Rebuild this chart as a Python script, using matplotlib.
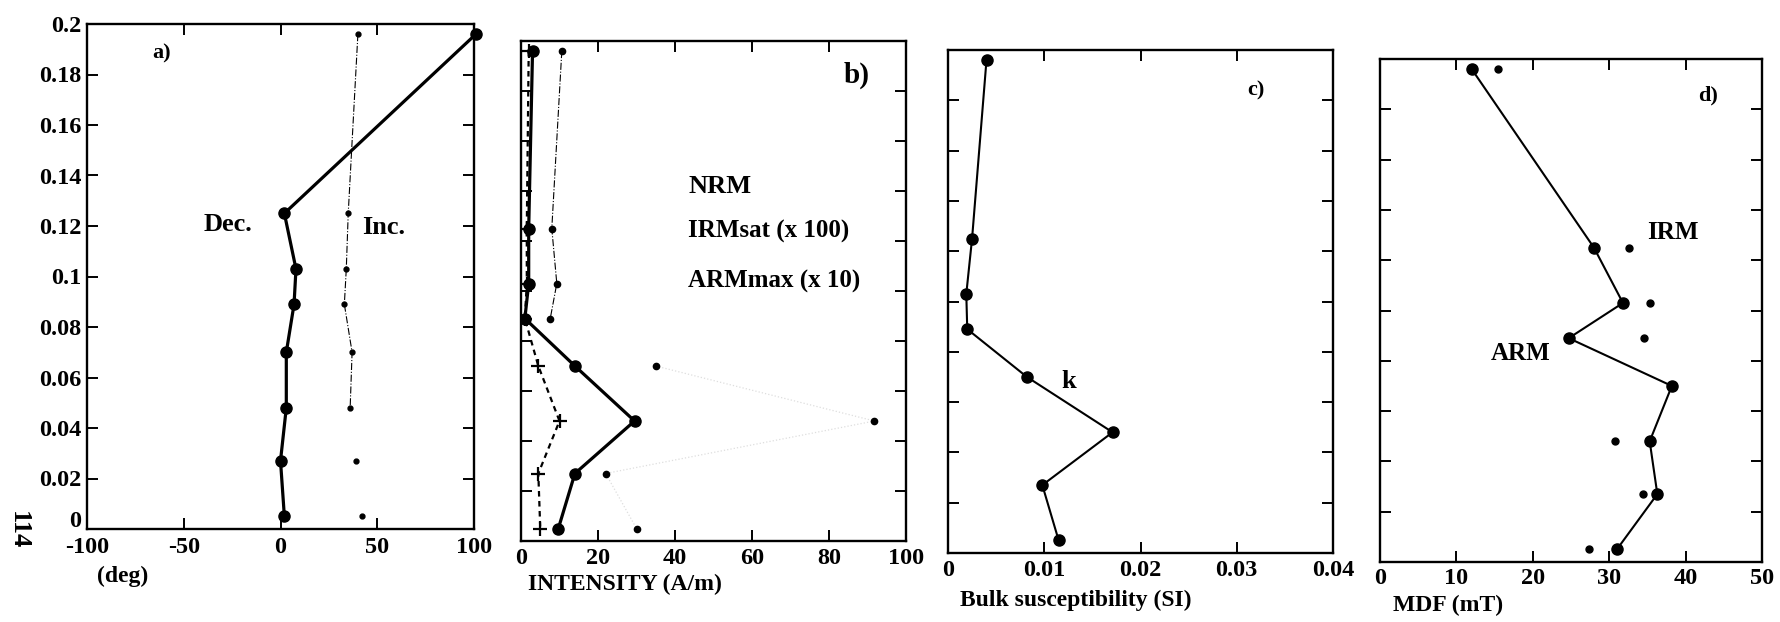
from matplotlib import pyplot as plt
from matplotlib import transforms
import numpy as np

# depth of the samples (shared by all four panels)
depth = [0.196, 0.125, 0.103, 0.089, 0.070, 0.048, 0.027, 0.005]

# a) direction
dec = [101, 2, 8, 7, 3, 3, 0, 2]
inc = [40, 35, 34, 33, 37, 36, 39, 42]

# b) intensities
nrm = [3, 2, 2, 1, 14, 29.5, 14, 9.7]
irm_sat = [10.6, 8, 9.3, 7.6, 35, 91.8, 22, 30]
arm_max = [2, 1.5, 1.5, 1, 4.5, 10, 4.5, 5]

# c) bulk susceptibility
k = [0.0040, 0.0025, 0.0019, 0.0020, 0.0082, 0.0171, 0.0098, 0.0115]

# d) median destructive fields
mdf_arm = [12, 28, 31.8, 24.7, 38.2, 35.3, 36.3, 31]
mdf_irm = [15.4, 32.6, 35.3, 34.5, np.nan, 30.7, 34.4, 27.4]

plt.rcParams['font.family'] = ['Liberation Serif', 'DejaVu Serif']
plt.rcParams['font.weight'] = 'bold'

W, H = 1781, 622
fig = plt.figure(figsize=(W / 100, H / 100), dpi=100)


def box(x0, y0, x1, y1):
    # pixel box -> figure fraction
    return [x0 / W, 1 - y1 / H, (x1 - x0) / W, (y1 - y0) / H]


def ftext(x, y, s, **kw):
    # text placed in figure pixels
    fig.text(x / W, 1 - y / H, s, fontweight='bold', **kw)


def style(ax, xlim, xticks, xlabels, ylabels=False, xpad=4):
    ax.set_xlim(xlim)
    ax.set_ylim(0, 0.2)
    ax.set_xticks(xticks)
    ax.set_xticklabels(xlabels, fontsize=17.5, fontweight='bold')
    ax.set_yticks(np.arange(0, 0.201, 0.02))
    if ylabels:
        ax.set_yticklabels(['0', '0.02', '0.04', '0.06', '0.08', '0.1', '0.12',
                            '0.14', '0.16', '0.18', '0.2'], fontsize=17.5, fontweight='bold')
    else:
        ax.set_yticklabels([])
    ax.tick_params(direction='in', top=True, right=True, length=8, width=1.4)
    ax.tick_params(axis='x', pad=xpad)
    ax.tick_params(axis='y', pad=4)
    for s in ax.spines.values():
        s.set_linewidth(1.7)


# a) Dec / Inc
ax = fig.add_axes(box(87, 24, 474, 529))
ax.plot(dec, depth, '-o', color='black', lw=2.3, ms=8, clip_on=False)
ax.plot(inc[:6], depth[:6], linestyle='-.', color='black', lw=0.8)
ax.plot(inc, depth, '.', color='black', ms=7)
style(ax, (-100, 100), [-100, -50, 0, 50, 100], ['-100', '-50', '0', '50', '100'],
      ylabels=True, xpad=6)
# the "0" depth label sits just above the "-100" label, as in the original
lab0 = ax.get_yticklabels()[0]
lab0.set_transform(lab0.get_transform() + transforms.ScaledTranslation(0, 7 / 72, fig.dpi_scale_trans))
ax.text(-40, 0.118, 'Dec.', fontsize=19, fontweight='bold')
ax.text(42, 0.117, 'Inc.', fontsize=19, fontweight='bold')
ftext(162, 53, 'a)', fontsize=16, ha='center', va='center')
ftext(123, 576, '(deg)', fontsize=17, ha='center', va='center')
ftext(18, 530, '114', rotation=270, fontsize=19, ha='center', va='center')

# b) intensity
ax = fig.add_axes(box(521, 41, 906, 541))
ax.plot(nrm, depth, '-o', color='black', lw=2.3, ms=8)
ax.plot(arm_max, depth, '+', linestyle=(0, (2.5, 2)), color='black', lw=1.6, ms=10, mew=1.6)
ax.plot(irm_sat[:4], depth[:4], linestyle='-.', color='black', lw=0.8)
ax.plot(irm_sat[4:], depth[4:], linestyle=':', color='0.87', lw=0.9)
ax.plot(irm_sat, depth, '.', color='black', ms=9)
style(ax, (0, 100), [0, 20, 40, 60, 80, 100], ['0', '20', '40', '60', '80', '100'], xpad=5)
ax.text(43.5, 0.142, 'NRM', fontsize=19, fontweight='bold', va='center')
ax.text(43.5, 0.124, 'IRMsat (x 100)', fontsize=18, fontweight='bold', va='center')
ax.text(43.5, 0.104, 'ARMmax (x 10)', fontsize=18, fontweight='bold', va='center')
ftext(857, 75, 'b)', fontsize=21, ha='center', va='center')
ftext(528, 584, 'INTENSITY (A/m)', fontsize=17, ha='left', va='center')

# c) bulk susceptibility
ax = fig.add_axes(box(948, 50, 1333, 553))
ax.plot(k, depth, '-o', color='black', lw=1.5, ms=8)
style(ax, (0, 0.04), [0, 0.01, 0.02, 0.03, 0.04], ['0', '0.01', '0.02', '0.03', '0.04'], xpad=5)
ax.text(0.0125, 0.068, 'k', fontsize=19, fontweight='bold', ha='center', va='center')
ftext(1256, 90, 'c)', fontsize=16, ha='center', va='center')
ftext(960, 600, 'Bulk susceptibility (SI)', fontsize=17, ha='left', va='center')

# d) MDF
ax = fig.add_axes(box(1380, 59, 1762, 562))
ax.plot(mdf_arm, depth, '-o', color='black', lw=1.5, ms=8)
ax.plot(mdf_irm, depth, '.', color='black', ms=10)
style(ax, (0, 50), [0, 10, 20, 30, 40, 50], ['0', '10', '20', '30', '40', '50'], xpad=4)
ax.text(38.3, 0.131, 'IRM', fontsize=18, fontweight='bold', ha='center', va='center')
ax.text(18.4, 0.083, 'ARM', fontsize=18, fontweight='bold', ha='center', va='center')
ftext(1708, 95, 'd)', fontsize=16, ha='center', va='center')
ftext(1393, 605, 'MDF (mT)', fontsize=17, ha='left', va='center')

fig.savefig('out.png', dpi=100)
